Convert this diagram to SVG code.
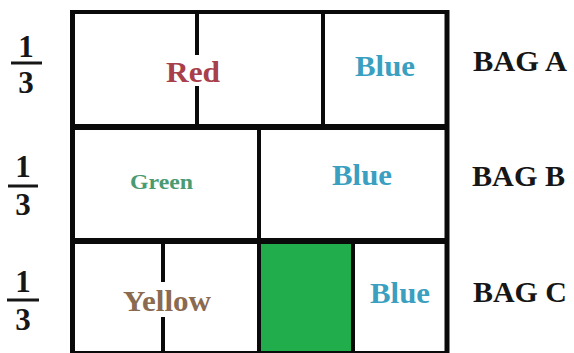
<svg xmlns="http://www.w3.org/2000/svg" width="574" height="353" viewBox="0 0 574 353">
<style>
text{font-family:'Liberation Serif','Times New Roman',serif;font-weight:bold;font-size:30px}
.bag{fill:#161616}
.frac{fill:#161616;text-anchor:middle;font-size:31px}
.ln{stroke:#0a0a0a;fill:none}
.blue{fill:#3a9fc0}
</style>
<rect width="574" height="353" fill="#ffffff"/>
<g id="cell-green-fill">
<rect x="259" y="241" width="93" height="112" fill="#21ad4b"/>
</g>
<g id="connectors">
<path class="ln" stroke-width="5" d="M72.5 10V353"/>
<path class="ln" stroke-width="4" d="M70 12H449"/>
<path class="ln" stroke-width="5" d="M447 10V353"/>
<path class="ln" stroke-width="6" d="M70 127H449"/>
<path class="ln" stroke-width="6" d="M70 241H449"/>
<path class="ln" stroke-width="2" d="M70 352H449"/>
<path class="ln" stroke-width="4" d="M197 12V55M197 86V127"/>
<path class="ln" stroke-width="4" d="M323 12V127"/>
<path class="ln" stroke-width="4" d="M259 127V353"/>
<path class="ln" stroke-width="4" d="M163 241V282M163 317V353"/>
<path class="ln" stroke-width="4" d="M353 241V353"/>
</g>
<g id="frac-a">
<text class="frac" x="26" y="57">1</text>
<path d="M11 63H42" stroke="#161616" stroke-width="3"/>
<text class="frac" x="26" y="93">3</text>
</g>
<g id="frac-b">
<text class="frac" x="23" y="177">1</text>
<path d="M8 186H38" stroke="#161616" stroke-width="3"/>
<text class="frac" x="23" y="215">3</text>
</g>
<g id="frac-c">
<text class="frac" x="23" y="292">1</text>
<path d="M7 300H39" stroke="#161616" stroke-width="3"/>
<text class="frac" x="23" y="330">3</text>
</g>
<g id="bag-a">
<text x="166" y="82" fill="#a8404c" textLength="54" lengthAdjust="spacingAndGlyphs">Red</text>
<text class="blue" x="355" y="76" textLength="60" lengthAdjust="spacingAndGlyphs">Blue</text>
<text class="bag" x="473" y="71" textLength="94" lengthAdjust="spacingAndGlyphs">BAG A</text>
</g>
<g id="bag-b">
<text x="130" y="189" fill="#4a9a72" style="font-size:22px" textLength="63" lengthAdjust="spacingAndGlyphs">Green</text>
<text class="blue" x="332" y="185" textLength="60" lengthAdjust="spacingAndGlyphs">Blue</text>
<text class="bag" x="472" y="186" textLength="93" lengthAdjust="spacingAndGlyphs">BAG B</text>
</g>
<g id="bag-c">
<text x="123" y="311" fill="#8a6a50" textLength="88" lengthAdjust="spacingAndGlyphs">Yellow</text>
<text class="blue" x="370" y="303" textLength="60" lengthAdjust="spacingAndGlyphs">Blue</text>
<text class="bag" x="473" y="302" textLength="94" lengthAdjust="spacingAndGlyphs">BAG C</text>
</g>
</svg>
